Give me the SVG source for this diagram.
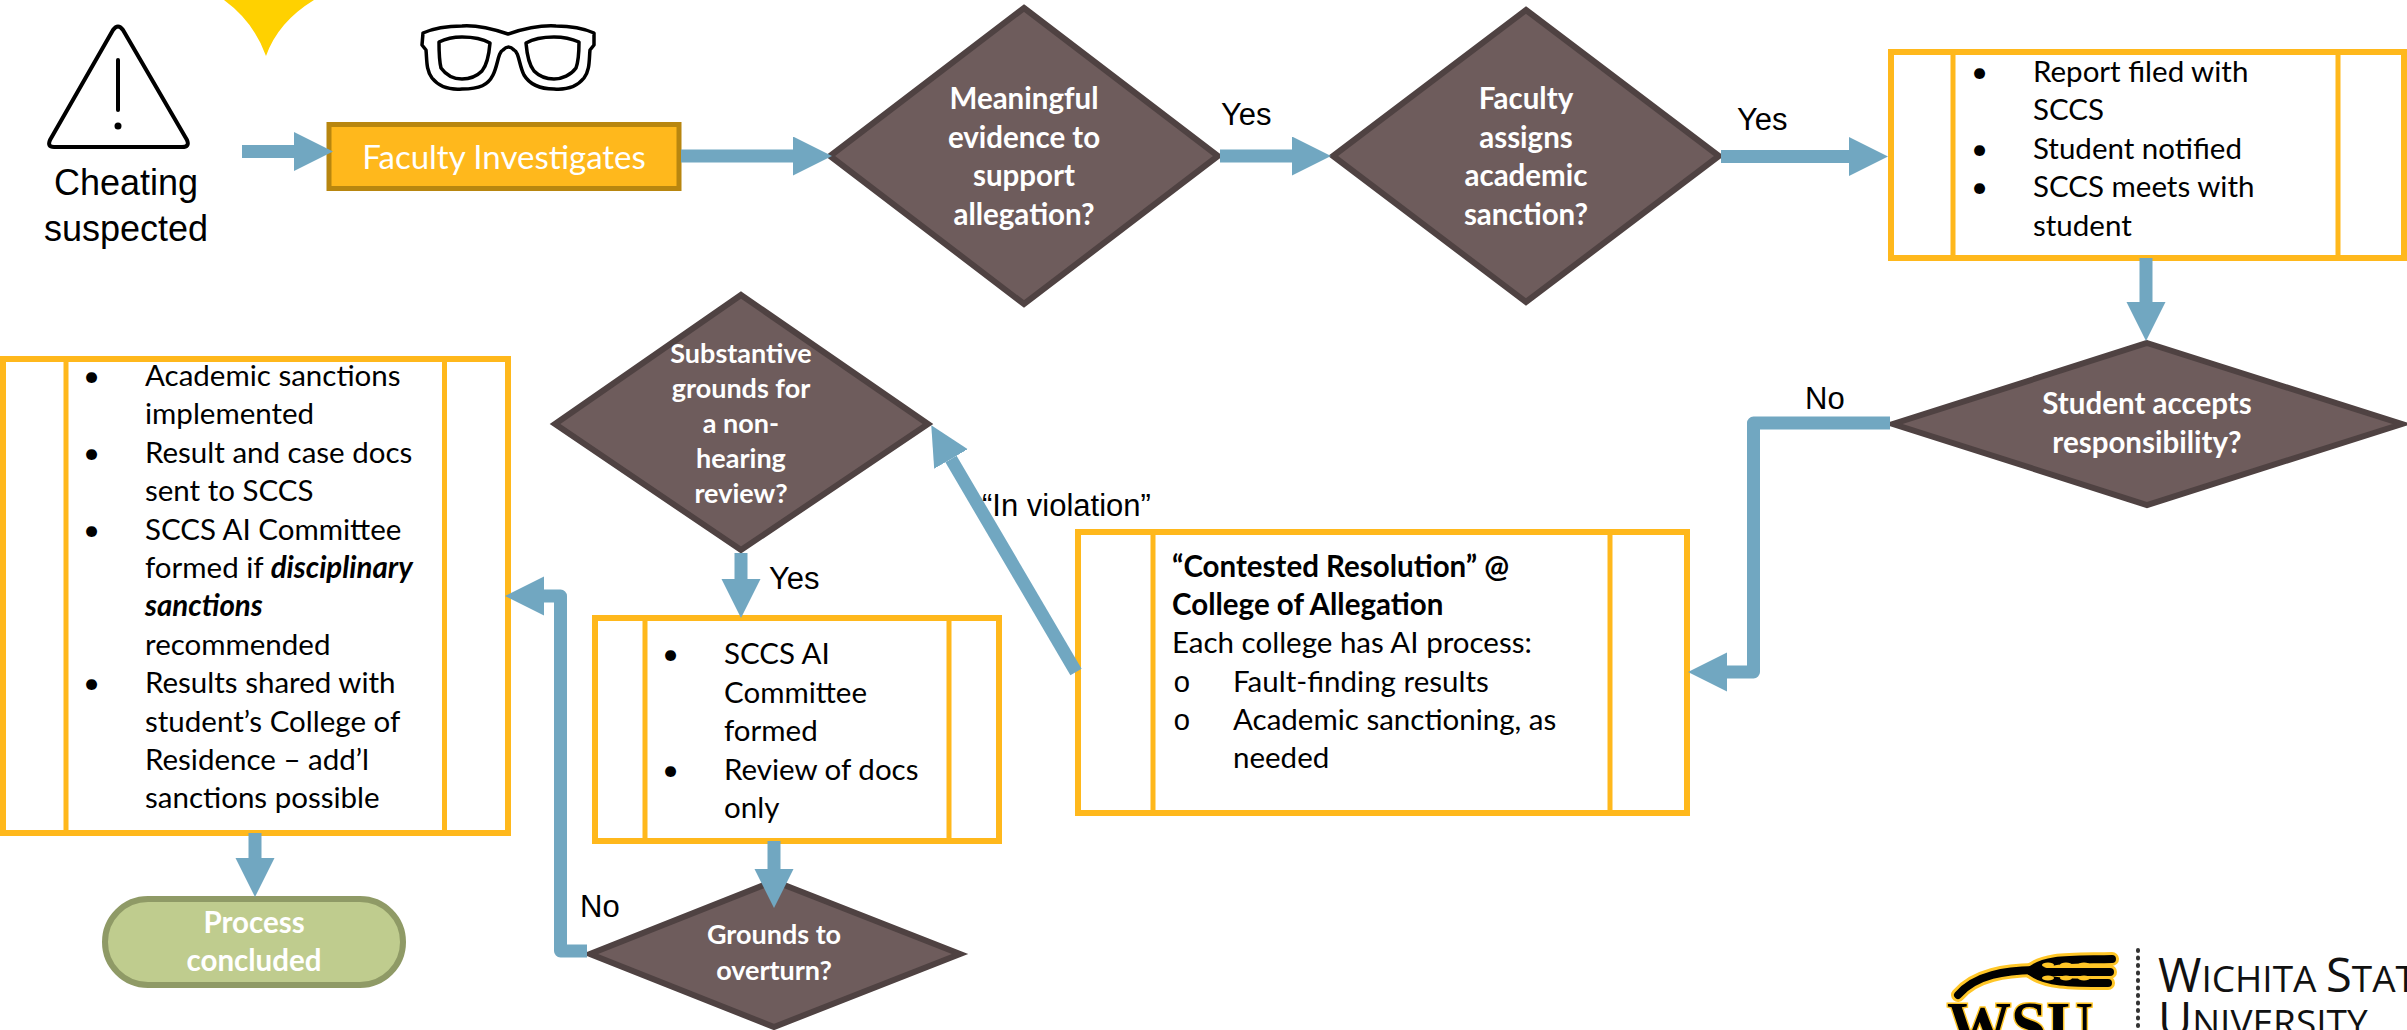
<svg xmlns="http://www.w3.org/2000/svg" width="2407" height="1030" viewBox="0 0 2407 1030">
<style>
text{font-family:"Lato","Liberation Sans",sans-serif}
.lbl{font-family:"Liberation Sans",Arial,sans-serif;font-size:31px;fill:#000}
.dec{fill:#6E5C5C;stroke:#4F4242;stroke-width:6;stroke-linejoin:miter}
.dt{font-size:29.5px;font-weight:700;fill:#fff;text-anchor:middle}
.box{fill:#fff;stroke:#FFB81C;stroke-width:6}
.inner{stroke:#FFB81C;stroke-width:5;fill:none}
.bt{font-size:29.5px;fill:#000}
.conn{fill:none;stroke:#71A7C1;stroke-width:13;stroke-linejoin:round}
.icon{fill:none;stroke:#000;stroke-linejoin:round;stroke-linecap:round}
</style>
<defs>
<marker id="head" markerUnits="userSpaceOnUse" markerWidth="40" markerHeight="40" refX="0" refY="19.5" orient="auto"><path d="M0,0 L39,19.5 L0,39 Z" fill="#71A7C1"/></marker>
</defs>

<g id="icon-top-mark"><path d="M224,0 Q254,22 266,56 Q278,22 314,0 Z" fill="#FFD100"/></g>

<g id="cheating-suspected">
<path class="icon" stroke-width="4" d="M113,30 Q118,23 123,30 L187,140 Q190,147 182,147 L54,147 Q47,147 50,140 Z"/>
<path class="icon" stroke-width="4" d="M118,60 L118,110"/>
<circle cx="118" cy="126" r="3.5" fill="#000"/>
<text x="126" y="195" text-anchor="middle" style="font-family:'Liberation Sans',Arial,sans-serif;font-size:36px">Cheating</text>
<text x="126" y="241" text-anchor="middle" style="font-family:'Liberation Sans',Arial,sans-serif;font-size:36px">suspected</text>
</g>

<g id="glasses-icon">
<path class="icon" stroke-width="3.5" d="M508,34 C490,28 475,25 462,26 C445,26 432,29 423,33 L422,45 L426,50 C427,60 426,70 432,78 C440,88 450,90 462,89 C480,89 488,85 493,75 C498,65 498,52 503,50 Q508.500,44 514,50 C519,52 519,65 524,75 C530,85 540,89 554,89 C566,90 576,88 584,78 C590,70 589,60 590,50 L594,45 L594,33 C585,29 571,26 556,26 C541,25 526,28 508,34 Z"/>
<path class="icon" stroke-width="3.500" d="M439,42 C447,38 455,37 462,37 C472,37 483,39 490,43 C489,55 487,65 482,71 C476,77 470,79 462,79 C454,79 446,75 441,68 C439,60 439,50 439,42 Z"/>
<path class="icon" stroke-width="3.500" d="M526,43 C533,39 544,37 554,37 C561,37 570,38 579,42 C579,50 579,60 576,68 C571,75 562,79 554,79 C546,79 540,77 534,71 C529,65 527,55 526,43 Z"/>
</g>

<g id="faculty-investigates">
<rect x="329" y="124.500" width="350" height="64" fill="#FFB81C" stroke="#B8860F" stroke-width="5"/>
<text x="504" y="169" text-anchor="middle" style="font-size:33px;fill:#fff">Faculty Investigates</text>
</g>

<g id="decision-evidence">
<polygon class="dec" points="1024,8 1218,156 1024,304 830,156"/>
<text class="dt" x="1024" y="109">Meaningful</text><text class="dt" x="1024" y="148">evidence to</text><text class="dt" x="1024" y="186">support</text><text class="dt" x="1024" y="225">allegation?</text>
</g>

<g id="decision-sanction">
<polygon class="dec" points="1526,10 1719,156 1526,302 1333,156"/>
<text class="dt" x="1526" y="109">Faculty</text><text class="dt" x="1526" y="148">assigns</text><text class="dt" x="1526" y="186">academic</text><text class="dt" x="1526" y="225">sanction?</text>
</g>

<g id="report-filed">
<rect class="box" x="1891" y="52" width="513" height="206"/>
<path class="inner" d="M1953,52V258M2338,52V258"/>
<text class="bt" x="1971" y="82">•</text><text class="bt" x="2033" y="82">Report filed with</text>
<text class="bt" x="2033" y="120">SCCS</text>
<text class="bt" x="1971" y="159">•</text><text class="bt" x="2033" y="159">Student notified</text>
<text class="bt" x="1971" y="197">•</text><text class="bt" x="2033" y="197">SCCS meets with</text>
<text class="bt" x="2033" y="236">student</text>
</g>

<g id="decision-responsibility">
<polygon class="dec" points="2147,343 2402,424 2147,505 1893,424"/>
<text class="dt" x="2147" y="414">Student accepts</text><text class="dt" x="2147" y="453">responsibility?</text>
</g>

<g id="contested-resolution">
<rect class="box" x="1078" y="532" width="609" height="281"/>
<path class="inner" d="M1153,532V813M1610,532V813"/>
<text class="bt" x="1172" y="577" font-weight="700">“Contested Resolution” @</text>
<text class="bt" x="1172" y="615" font-weight="700">College of Allegation</text>
<text class="bt" x="1172" y="653">Each college has AI process:</text>
<text class="bt" x="1173" y="692" style="font-family:'Liberation Mono',monospace">o</text><text class="bt" x="1233" y="692">Fault-finding results</text>
<text class="bt" x="1173" y="730" style="font-family:'Liberation Mono',monospace">o</text><text class="bt" x="1233" y="730">Academic sanctioning, as</text>
<text class="bt" x="1233" y="768">needed</text>
</g>

<g id="decision-nonhearing">
<polygon class="dec" points="741,295 928,424 741,550 555,424"/>
<g style="font-size:27px"><text class="dt" style="font-size:27px" x="741" y="363">Substantive</text><text class="dt" style="font-size:27px" x="741" y="398">grounds for</text><text class="dt" style="font-size:27px" x="741" y="433">a non-</text><text class="dt" style="font-size:27px" x="741" y="468">hearing</text><text class="dt" style="font-size:27px" x="741" y="503">review?</text></g>
</g>

<g id="ai-committee-review">
<rect class="box" x="595" y="618" width="404" height="223"/>
<path class="inner" d="M645,618V841M949,618V841"/>
<text class="bt" x="662" y="664">•</text><text class="bt" x="724" y="664">SCCS AI</text>
<text class="bt" x="724" y="703">Committee</text>
<text class="bt" x="724" y="741">formed</text>
<text class="bt" x="662" y="780">•</text><text class="bt" x="724" y="780">Review of docs</text>
<text class="bt" x="724" y="818">only</text>
</g>

<g id="decision-overturn">
<polygon class="dec" points="774,881 960,954 774,1027 590,954"/>
<text class="dt" style="font-size:27px" x="774" y="944">Grounds to</text><text class="dt" style="font-size:27px" x="774" y="980">overturn?</text>
</g>

<g id="sanctions-implemented">
<rect class="box" x="3" y="359" width="505" height="474"/>
<path class="inner" d="M66,359V833M444.500,359V833"/>
<text class="bt" x="83" y="386">•</text><text class="bt" x="145" y="386">Academic sanctions</text>
<text class="bt" x="145" y="424">implemented</text>
<text class="bt" x="83" y="463">•</text><text class="bt" x="145" y="463">Result and case docs</text>
<text class="bt" x="145" y="501">sent to SCCS</text>
<text class="bt" x="83" y="540">•</text><text class="bt" x="145" y="540">SCCS AI Committee</text>
<text class="bt" x="145" y="578">formed if <tspan font-weight="700" font-style="italic">disciplinary</tspan></text>
<text class="bt" x="145" y="616" font-weight="700" font-style="italic">sanctions</text>
<text class="bt" x="145" y="655">recommended</text>
<text class="bt" x="83" y="693">•</text><text class="bt" x="145" y="693">Results shared with</text>
<text class="bt" x="145" y="732">student’s College of</text>
<text class="bt" x="145" y="770">Residence – add’l</text>
<text class="bt" x="145" y="808">sanctions possible</text>
</g>

<g id="process-concluded">
<rect x="105" y="899" width="298" height="86" rx="43" fill="#BFCC8E" stroke="#8F9A66" stroke-width="6"/>
<text class="dt" x="254" y="933">Process</text><text class="dt" x="254" y="971">concluded</text>
</g>

<g id="connectors">
<path class="conn" d="M242,232" stroke="none"/>
<path class="conn" marker-end="url(#head)" d="M242,151.500H294"/>
<path class="conn" marker-end="url(#head)" d="M681,156H793"/>
<path class="conn" marker-end="url(#head)" d="M1220,156H1292"/>
<path class="conn" marker-end="url(#head)" d="M1721,156.500H1849"/>
<path class="conn" marker-end="url(#head)" d="M2146,258V302"/>
<path class="conn" marker-end="url(#head)" d="M1890,423H1753.500V672H1727"/>
<path class="conn" marker-end="url(#head)" d="M1076,672L951,459"/>
<path class="conn" marker-end="url(#head)" d="M741,553V579"/>
<path class="conn" marker-end="url(#head)" d="M774,841V869"/>
<path class="conn" marker-end="url(#head)" d="M587,951H560.500V596H544"/>
<path class="conn" marker-end="url(#head)" d="M255,833V858"/>
</g>

<g id="edge-labels">
<text class="lbl" x="1221" y="125">Yes</text>
<text class="lbl" x="1737" y="130">Yes</text>
<text class="lbl" x="1805" y="409">No</text>
<text class="lbl" x="982" y="516">“In violation”</text>
<text class="lbl" x="769" y="589">Yes</text>
<text class="lbl" x="580" y="917">No</text>
</g>

<g id="wsu-logo">
<g fill="none" stroke-linecap="round" stroke-linejoin="round">
<g stroke="#FFC627" stroke-width="14"><path d="M1958,995 C1975,975 2005,970 2040,970"/><path d="M2030,971 C2045,958 2070,960 2112,959"/><path d="M2040,972H2110"/><path d="M2030,971 C2045,983 2070,983 2108,983"/></g>
<g stroke="#000" stroke-width="8"><path d="M1958,995 C1975,975 2005,970 2040,970"/><path d="M2030,971 C2045,958 2070,960 2112,959"/><path d="M2040,972H2110"/><path d="M2030,971 C2045,983 2070,983 2108,983"/></g>
</g>
<g fill="#FFC627"><ellipse cx="2048" cy="965" rx="6" ry="2.500"/><ellipse cx="2066" cy="965" rx="6" ry="2.500"/><ellipse cx="2084" cy="965" rx="6" ry="2.500"/><ellipse cx="2048" cy="978" rx="6" ry="2.500"/><ellipse cx="2066" cy="978" rx="6" ry="2.500"/><ellipse cx="2084" cy="978" rx="6" ry="2.500"/></g>
<text x="1947" y="1048" textLength="146" lengthAdjust="spacingAndGlyphs" style="font-family:'Liberation Serif',serif;font-weight:700;font-size:68px;fill:#000;stroke:#FFC627;stroke-width:3;paint-order:stroke">WSU</text>
<path d="M2138,950V1030" stroke="#333" stroke-width="4" stroke-dasharray="1 6.500" stroke-linecap="round" fill="none"/>
<text x="2158" y="992" style="font-family:'Open Sans',sans-serif;font-size:37px;fill:#111"><tspan font-size="47">W</tspan>ICHITA <tspan font-size="47">S</tspan>TATE</text>
<text x="2158" y="1036" style="font-family:'Open Sans',sans-serif;font-size:37px;fill:#111"><tspan font-size="47">U</tspan>NIVERSITY</text>
</g>
</svg>
